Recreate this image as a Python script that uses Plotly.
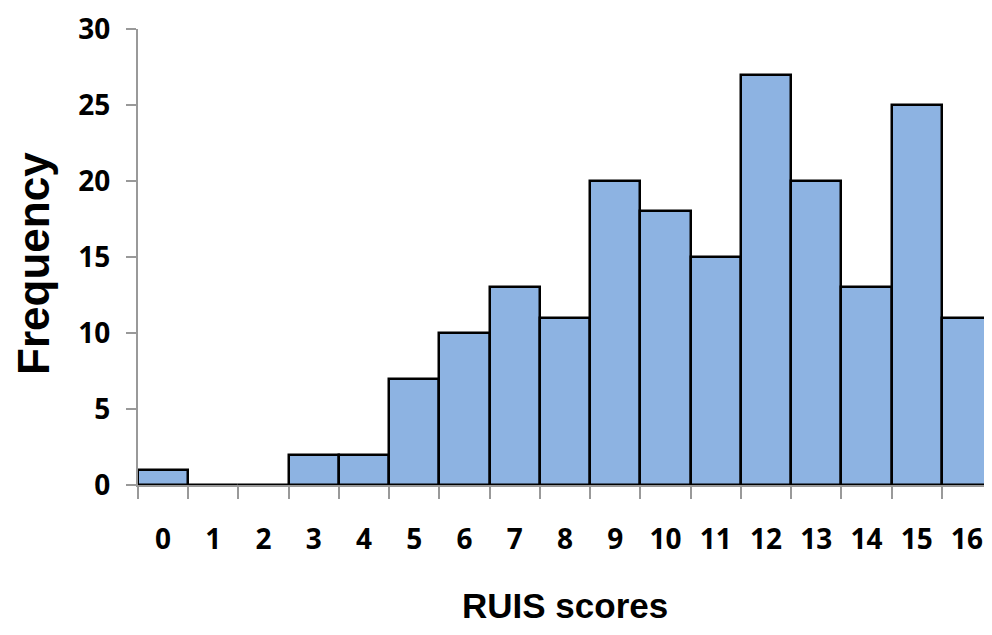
import plotly.graph_objects as go

scores = list(range(17))
frequency = [1, 0, 0, 2, 2, 7, 10, 13, 11, 20, 18, 15, 27, 20, 13, 25, 11]
y_ticks = [0, 5, 10, 15, 20, 25, 30]
x_title = "RUIS scores"
y_title = "Frequency"

fig = go.Figure()
fig.add_trace(go.Bar(
    x=scores, y=frequency, width=1,
    marker=dict(color="#8DB3E2", line=dict(color="#000000", width=2.5)),
))

tick_font = dict(family="Noto Sans", size=28, color="#000000", weight="bold")
fig.update_layout(
    width=992, height=635,
    margin=dict(l=130, r=8, t=21, b=158, autoexpand=False),
    paper_bgcolor="white", plot_bgcolor="white",
    showlegend=False,
    bargap=0,
    xaxis=dict(
        range=[-0.5, 16.5], tickmode="array", tickvals=scores,
        ticktext=[str(s) for s in scores], ticks="", showgrid=False,
        showline=True, linecolor="#999999", linewidth=2, automargin=False,
        tickfont=tick_font, ticklabelstandoff=28, ticklabeloverflow="allow",
        minor=dict(tickmode="linear", tick0=-0.5, dtick=1, ticks="outside",
                   ticklen=12, tickwidth=2, tickcolor="#999999", showgrid=False),
        zeroline=False,
    ),
    yaxis=dict(
        range=[0, 30], tickmode="array", tickvals=y_ticks, ticks="outside",
        ticklen=10, tickwidth=2, tickcolor="#999999", showgrid=False,
        showline=True, linecolor="#999999", linewidth=2, automargin=False,
        tickfont=tick_font, ticklabelstandoff=10, zeroline=False,
        ticklabeloverflow="allow",
    ),
    annotations=[
        dict(text=x_title, xref="paper", yref="paper", x=0.5, y=-0.265,
             xanchor="center", yanchor="middle", showarrow=False,
             font=dict(family="Liberation Sans", size=35, color="#000000", weight="bold")),
        dict(text=y_title, xref="paper", yref="paper", x=-0.1218, y=0.487,
             xanchor="center", yanchor="middle", showarrow=False, textangle=-90,
             font=dict(family="Liberation Sans", size=44, color="#000000", weight="bold")),
    ],
)

fig.write_html("out.html")
